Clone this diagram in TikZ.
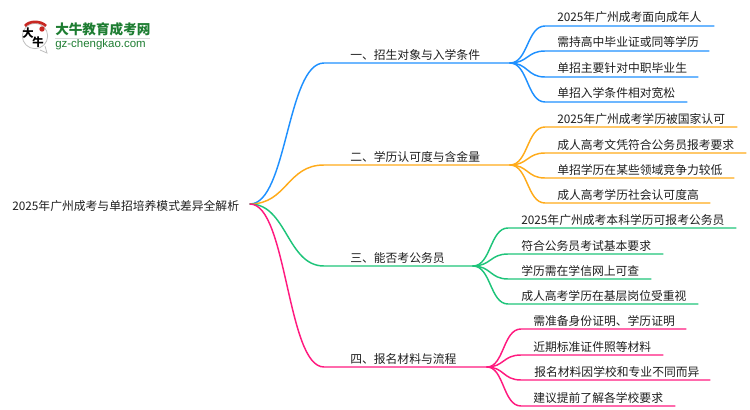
\documentclass[tikz,border=0pt]{standalone}
\usepackage{fontspec}
\setmainfont{Noto Sans CJK SC}
\setsansfont{Liberation Sans}
\usepackage{tikz}
\usetikzlibrary{positioning,calc}
\definecolor{branchBlue}{RGB}{30, 144, 255}
\definecolor{branchOrange}{RGB}{255, 171, 26}
\definecolor{branchGreen}{RGB}{30, 196, 122}
\definecolor{branchPink}{RGB}{255, 26, 127}
\definecolor{labelGrey}{RGB}{30, 30, 30}
\definecolor{logoGreen}{RGB}{30, 125, 50}
\definecolor{logoRed}{RGB}{200, 40, 35}
\tikzset{
  txtlabel/.style={anchor=base west,inner sep=0pt,text=labelGrey,font=\fontsize{8.85pt}{10pt}\selectfont},
  curveline/.style={line width=1.1pt,line cap=round},
  logochar/.style={inner sep=0pt,text=black,font=\fontsize{8.5pt}{9pt}\selectfont\bfseries},
}
\begin{document}
\begin{tikzpicture}[x=0.75pt,y=-0.75pt]
    \useasboundingbox (0,0) rectangle (750,410);
    % logo
    \node[circle,draw=black!25,fill=white,line width=0.6pt,minimum size=19pt,inner sep=0pt] (logoRing) at (35,36) {};
    \draw[black!25,line width=0.6pt] (40,50) -- (47,53) -- (45,46);
    \draw[logoRed,line width=2pt] (25,26) .. controls (29,20.5) and (41,20.5) .. (46,26);
    \node[fill=logoRed,circle,inner sep=0pt,minimum size=4pt] (logoSeal) at (42,29) {};
    \node[logochar] (logoDa) at (28,33) {大};
    \node[logochar] (logoNiu) at (38,42) {牛};
    \node[anchor=west,inner sep=0pt,text=logoGreen,font=\fontsize{10.2pt}{11pt}\selectfont\bfseries] (logoName) at (55,29.5) {大牛教育成考网};
    \node[anchor=west,inner sep=0pt,text=logoGreen,font=\fontsize{8.6pt}{10pt}\sffamily] (logoSite) at (55,45) {gz-chengkao.com};
    \draw[black!15,line width=0.5pt] (55,38.5) -- (150,38.5);
    % root and main branches
    \node[txtlabel] (root) at (12,210) {2025年广州成考与单招培养模式差异全解析};
    \coordinate (rootEnd) at (250,204);
    \foreach \n/\col/\my/\jx/\lab in {A/branchBlue/63/510/一、招生对象与入学条件,B/branchOrange/165/510/二、学历认可度与含金量,C/branchGreen/266/473/三、能否考公务员,D/branchPink/367/487/四、报名材料与流程} {
        \node[txtlabel] (main\n) at (350,\my-3.5) {\lab};
        \coordinate (knee\n) at (324,\my);
        \coordinate (jun\n) at (\jx,\my);
        \draw[curveline,\col] (rootEnd) .. controls (287,204) and (287,\my) .. (knee\n) -- (jun\n);
    }
    % kids of the first branch
    \foreach \i/\y/\e/\txt in {1/26/714/2025年广州成考面向成年人,2/51/709/需持高中毕业证或同等学历,3/77/698/单招主要针对中职毕业生,4/102/687/单招入学条件相对宽松} {
        \node[txtlabel] (kidA\i) at (557,\y-4) {\txt};
        \coordinate (a\i) at (545,\y);
        \coordinate (b\i) at (\e,\y);
        \draw[curveline,branchBlue] (junA) .. controls (528,63) and (527,\y) .. (a\i) -- (b\i);
    }
    % second branch
    \foreach \i/\y/\e/\txt in {1/127/737/2025年广州成考学历被国家认可,2/153/746/成人高考文凭符合公务员报考要求,3/178/734/单招学历在某些领域竞争力较低,4/203/710/成人高考学历社会认可度高} {
        \node[txtlabel] (kidB\i) at (557,\y-4) {\txt};
        \coordinate (a\i) at (545,\y);
        \coordinate (b\i) at (\e,\y);
        \draw[curveline,branchOrange] (junB) .. controls (528,165) and (527,\y) .. (a\i) -- (b\i);
    }
    % third branch
    \foreach \i/\y/\e/\txt in {1/228/736/2025年广州成考本科学历可报考公务员,2/254/663/符合公务员考试基本要求,3/279/651/学历需在学信网上可查,4/304/698/成人高考学历在基层岗位受重视} {
        \node[txtlabel] (kidC\i) at (521,\y-4) {\txt};
        \coordinate (a\i) at (508,\y);
        \coordinate (b\i) at (\e,\y);
        \draw[curveline,branchGreen] (junC) .. controls (491,266) and (490,\y) .. (a\i) -- (b\i);
    }
    % fourth branch
    \foreach \i/\x/\y/\e/\txt in {1/533/329/686/需准备身份证明、学历证明,2/533/355/663/近期标准证件照等材料,3/534/380/710/报名材料因学校和专业不同而异,4/533/406/675/建议提前了解各学校要求} {
        \node[txtlabel] (kidD\i) at (\x,\y-4) {\txt};
        \coordinate (a\i) at (521,\y);
        \coordinate (b\i) at (\e,\y);
        \draw[curveline,branchPink] (junD) .. controls (504,367) and (503,\y) .. (a\i) -- (b\i);
    }
\end{tikzpicture}
\end{document}
